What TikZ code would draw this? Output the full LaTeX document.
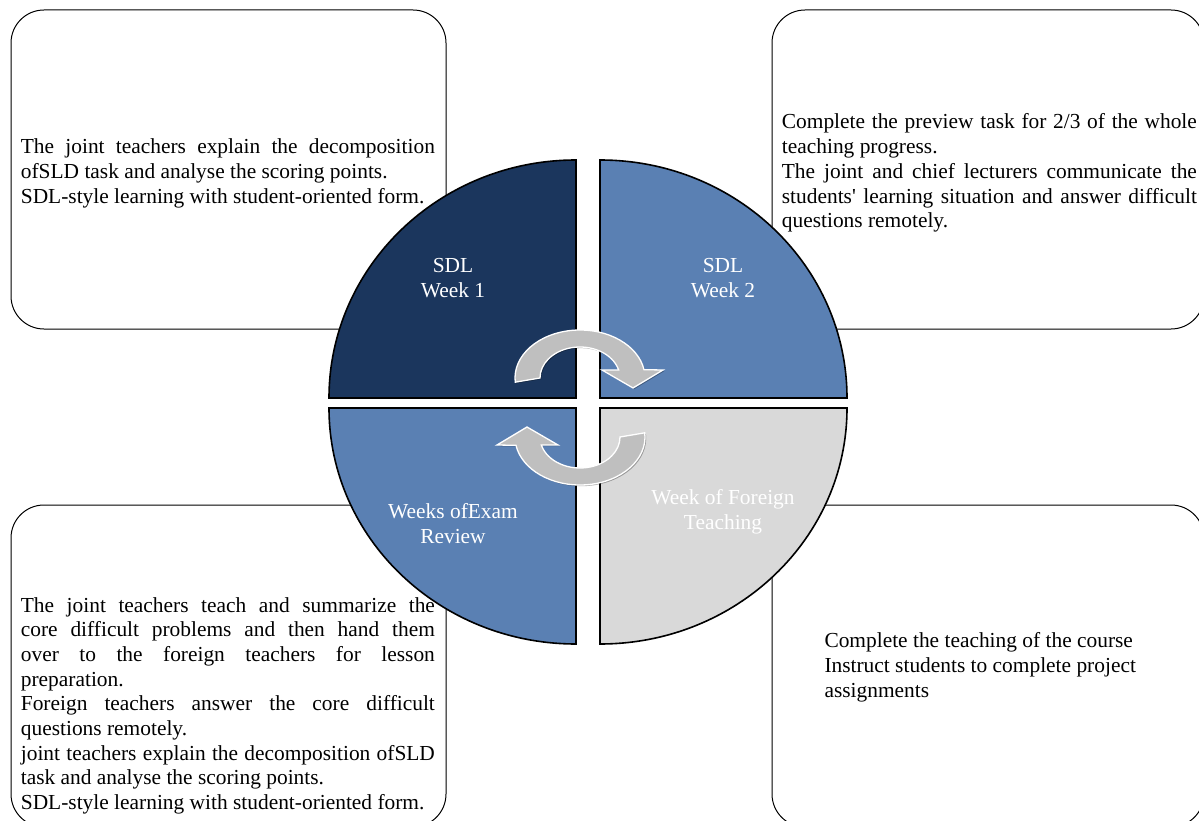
\documentclass[tikz,border=0pt]{standalone}
\usepackage{fontspec}
\setmainfont{Liberation Serif}
\usetikzlibrary{shadows}
\definecolor{navy}{HTML}{1B365D}
\definecolor{midblue}{HTML}{5A80B3}
\definecolor{lightgrey}{HTML}{D9D9D9}
\definecolor{arrowgrey}{HTML}{BFBFBF}

\begin{document}
\begin{tikzpicture}[x=1pt, y=1pt,
    box/.style={draw=black, line width=1pt, rounded corners=33pt, fill=white},
    quarter/.style={draw=black, line width=1.6pt},
    boxtext/.style={inner sep=0pt, anchor=base west, text width=414pt, align=justify,
        font=\fontsize{21.4}{24.7}\selectfont},
    ragtext/.style={inner sep=0pt, anchor=base west, align=left,
        font=\fontsize{21.4}{24.7}\selectfont},
    qlabel/.style={inner sep=0pt, anchor=base, align=center, text=white,
        font=\fontsize{21.4}{24.7}\selectfont},
    turn/.style={fill=arrowgrey, draw=white, line width=1.3pt,
        drop shadow={shadow xshift=1.2pt, shadow yshift=-1.2pt, opacity=0.3, fill=black}}]
        \useasboundingbox (0,0) rectangle (1199,-821);
        \clip (0,0) rectangle (1199,-821);

        % Text boxes
        \draw[box] (11,-10) rectangle (446,-329);
        \draw[box] (772,-10) rectangle (1204,-329);
        \draw[box] (11,-505) rectangle (446,-827);
        \draw[box] (772,-505) rectangle (1204,-827);

        % Quarters of the circle
        \draw[quarter, fill=navy] (576,-398) -- (329,-398)
            arc[start angle=180, end angle=90, x radius=247pt, y radius=238pt] -- cycle;
        \draw[quarter, fill=midblue] (600,-398) -- (600,-160)
            arc[start angle=90, end angle=0, x radius=247pt, y radius=238pt] -- cycle;
        \draw[quarter, fill=midblue] (576,-408) -- (329,-408)
            arc[start angle=180, end angle=270, x radius=247pt, y radius=236pt] -- cycle;
        \draw[quarter, fill=lightgrey] (600,-408) -- (847,-408)
            arc[start angle=0, end angle=-90, x radius=247pt, y radius=236pt] -- cycle;

        % Turning arrows
        \begin{scope}[shift={(580,-378)}]
            \draw[turn] (-40,0) -- (185:65 and 48)
                arc[start angle=185, end angle=10, x radius=65pt, y radius=48pt]
                -- (83,8) -- (53,-10) -- (22,8) -- (15:40 and 31)
                arc[start angle=15, end angle=180, x radius=40pt, y radius=31pt] -- cycle;
        \end{scope}
        \begin{scope}[shift={(580,-437)}, rotate=180]
            \draw[turn] (-40,0) -- (185:65 and 48)
                arc[start angle=185, end angle=10, x radius=65pt, y radius=48pt]
                -- (83,8) -- (53,-10) -- (22,8) -- (15:40 and 31)
                arc[start angle=15, end angle=180, x radius=40pt, y radius=31pt] -- cycle;
        \end{scope}

        % Quarter labels (base = last line)
        \node[qlabel] (wk1) at (453,-297) {SDL\\Week 1};
        \node[qlabel] (wk2) at (723,-297) {SDL\\Week 2};
        \node[qlabel] (exam) at (453,-543) {Weeks ofExam\\Review};
        \node[qlabel] (foreign) at (723,-529) {Week of Foreign\\Teaching};

        % Box texts
        \node[boxtext] (txt1) at (20.7,-154) {The joint teachers explain the decomposition\linebreak
            ofSLD task and analyse the scoring points.\\
            SDL-style learning with student-oriented form.};
        \node[boxtext, text width=415pt] (txt2) at (781.7,-129) {Complete the preview task for 2/3 of the whole\linebreak
            teaching progress.\\
            The joint and chief lecturers communicate the\linebreak
            students\textquotesingle{} learning situation and answer difficult\linebreak
            questions remotely.};
        \node[boxtext] (txt3) at (20.7,-612) {The joint teachers teach and summarize the\linebreak
            core difficult problems and then hand them\linebreak
            over to the foreign teachers for lesson\linebreak
            preparation.\\
            Foreign teachers answer the core difficult\linebreak
            questions remotely.\\
            joint teachers explain the decomposition ofSLD\linebreak
            task and analyse the scoring points.\\
            SDL-style learning with student-oriented form.};
        \node[ragtext] (txt4) at (824.3,-697) {Complete the teaching of the course\\
            Instruct students to complete project\\
            assignments};
\end{tikzpicture}
\end{document}
